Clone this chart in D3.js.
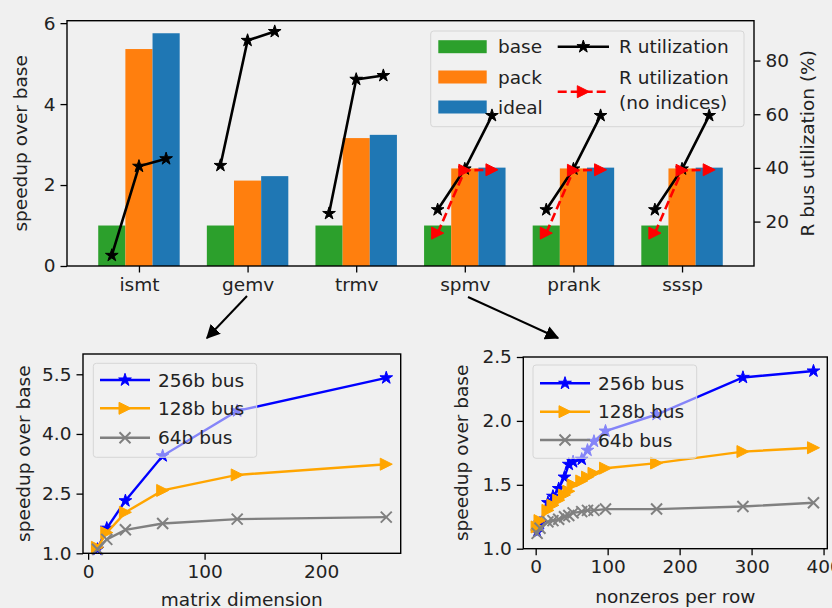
<!DOCTYPE html>
<html><head><meta charset="utf-8">
<script src="https://cdn.jsdelivr.net/npm/d3@7"></script>
<style>
html,body{margin:0;padding:0;background:#f0f0f0;}
svg{display:block;font-family:"DejaVu Sans",sans-serif;}
</style></head><body>
<svg id="c" width="832" height="608"></svg>
<script>
// ---------- data ----------
const categories = ["ismt","gemv","trmv","spmv","prank","sssp"];
const baseVals  = [1, 1, 1, 1, 1, 1];
const packVals  = [5.36, 2.11, 3.16, 2.41, 2.41, 2.41];
const idealVals = [5.75, 2.22, 3.24, 2.43, 2.43, 2.43];
const rUtil = [[7.4, 40.6, 43.4],[40.9, 87.5, 90.8],[23.0, 73.0, 74.4],[24.4, 39.6, 59.5],[24.4, 39.6, 59.5],[24.4, 39.6, 59.5]];
const rUtilNoIdx = [null, null, null, [15.7, 39.1, 39.3],[15.7, 39.1, 39.3],[15.7, 39.1, 39.3]];
const leftTicks = [0, 2, 4, 6];
const rightTicks = [20, 40, 60, 80];

const matDim = [8, 16, 32, 64, 128, 256];
const gemv256 = [1.10, 1.63, 2.32, 3.45, 4.58, 5.41];
const gemv128 = [1.15, 1.52, 2.03, 2.58, 2.97, 3.24];
const gemv64  = [1.10, 1.35, 1.59, 1.75, 1.86, 1.91];
const gemvYTicks = [1.0, 2.5, 4.0, 5.5];
const gemvXTicks = [0, 100, 200];

const nnzRow = [2, 6, 17, 24, 32, 40, 46, 52, 64, 72, 81, 97, 168, 288, 386];
const spmv256 = [1.13, 1.20, 1.36, 1.41, 1.47, 1.56, 1.66, 1.68, 1.70, 1.77, 1.84, 1.92, 2.05, 2.34, 2.39];
const spmv128 = [1.17, 1.22, 1.30, 1.34, 1.38, 1.42, 1.45, 1.50, 1.53, 1.56, 1.59, 1.63, 1.67, 1.76, 1.79];
const spmv64  = [1.12, 1.16, 1.21, 1.22, 1.23, 1.25, 1.26, 1.28, 1.29, 1.30, 1.30, 1.31, 1.31, 1.33, 1.36];
const spmvYTicks = [1.0, 1.5, 2.0, 2.5];
const spmvXTicks = [0, 100, 200, 300, 400];

// ---------- style ----------
const FS = 18.5;
const C = {base:"#2ca02c", pack:"#ff7f0e", ideal:"#1f77b4", r:"#000000", rn:"#ff0000",
           b256:"#0000ff", b128:"#ffa500", b64:"#808080"};
const svg = d3.select("#c");

const starPath = d3.symbol(d3.symbolStar, 50)();
const triPath = (r=6) => `M${r},0L${-r},${-r}L${-r},${r}Z`;
function drawMarker(g, type, x, y, color){
  if(type==="star"){
    g.append("path").attr("d", starPath).attr("transform",`translate(${x},${y})`)
     .attr("fill",color).attr("stroke",color).attr("stroke-width",1);
  } else if(type==="tri"){
    g.append("path").attr("d", triPath(6)).attr("transform",`translate(${x},${y})`)
     .attr("fill",color).attr("stroke",color).attr("stroke-width",1);
  } else if(type==="x"){
    const r=5.5;
    g.append("path").attr("d",`M${-r},${-r}L${r},${r}M${-r},${r}L${r},${-r}`)
     .attr("transform",`translate(${x},${y})`).attr("stroke",color).attr("stroke-width",2).attr("fill","none");
  }
}
function styleAxis(g){
  g.selectAll(".domain").remove();
  g.selectAll(".tick line").attr("stroke","#000").attr("stroke-width",1.3);
  g.selectAll(".tick text").attr("fill","#222").style("font-size",FS+"px").style("font-family","DejaVu Sans");
}
function frame(x0,y0,x1,y1){
  svg.append("rect").attr("x",x0).attr("y",y0).attr("width",x1-x0).attr("height",y1-y0)
    .attr("fill","none").attr("stroke","#000").attr("stroke-width",1.4);
}
function legendBox(x0,y0,x1,y1){
  svg.append("rect").attr("x",x0).attr("y",y0).attr("width",x1-x0).attr("height",y1-y0).attr("rx",3)
    .attr("fill","#f3f3f3").attr("fill-opacity",0.55).attr("stroke","#d6d6d6").attr("stroke-width",1);
}
function txt(x,y,s,anchor="start",rot=0){
  const t = svg.append("text").attr("x",x).attr("y",y).attr("text-anchor",anchor)
    .attr("dominant-baseline","central").style("font-size",FS+"px").attr("fill","#222").text(s);
  if(rot) t.attr("transform",`rotate(${rot},${x},${y})`);
  return t;
}

// ---------- top chart ----------
const T = {x0:67, x1:754, y0:20.7, y1:266};
const offsets = [-0.25, 0, 0.25];
const bw = 0.25;
const xT = d3.scaleLinear().domain([-0.6625, 5.6625]).range([T.x0, T.x1]);
const yL = d3.scaleLinear().domain([0, 6.06]).range([T.y1, T.y0]);
const yR = d3.scaleLinear().domain([3.45, 94.85]).range([T.y1, T.y0]);

const gBars = svg.append("g");
[[baseVals,C.base],[packVals,C.pack],[idealVals,C.ideal]].forEach(([vals,col],k)=>{
  gBars.selectAll(null).data(vals).enter().append("rect")
    .attr("x",(d,i)=>xT(i+offsets[k]-bw/2))
    .attr("width",xT(bw)-xT(0))
    .attr("y",d=>yL(d)).attr("height",d=>yL(0)-yL(d)).attr("fill",col);
});

const gx = svg.append("g").attr("transform",`translate(0,${T.y1})`)
  .call(d3.axisBottom(xT).tickValues(d3.range(categories.length)).tickFormat(i=>categories[i]).tickSizeOuter(0).tickSize(6.5).tickPadding(5));
styleAxis(gx);
const gyl = svg.append("g").attr("transform",`translate(${T.x0},0)`)
  .call(d3.axisLeft(yL).tickValues(leftTicks).tickFormat(d3.format("d")).tickSize(6.5).tickPadding(5));
styleAxis(gyl);
const gyr = svg.append("g").attr("transform",`translate(${T.x1},0)`)
  .call(d3.axisRight(yR).tickValues(rightTicks).tickFormat(d3.format("d")).tickSize(6.5).tickPadding(5));
styleAxis(gyr);

// top legend (belongs to the bar axes, so the twin-axis lines draw over it)
legendBox(430.7,31,744,126.7);
[["base",C.base,46.7],["pack",C.pack,77],["ideal",C.ideal,107]].forEach(([s,c,y])=>{
  svg.append("rect").attr("x",438.3).attr("y",y-6.5).attr("width",48.4).attr("height",13).attr("fill",c);
  txt(498,y,s);
});
svg.append("line").attr("x1",557.7).attr("x2",609).attr("y1",46.7).attr("y2",46.7).attr("stroke",C.r).attr("stroke-width",2.6);
drawMarker(svg,"star",583.3,46.7,C.r);
txt(619,46.7,"R utilization");
svg.append("line").attr("x1",557.7).attr("x2",609).attr("y1",91.7).attr("y2",91.7).attr("stroke",C.rn).attr("stroke-width",2.6).attr("stroke-dasharray","9,4");
drawMarker(svg,"tri",583.3,91.7,C.rn);
txt(619,77,"R utilization");
txt(619,102.5,"(no indices)");

const gLines = svg.append("g");
const lineT = d3.line().x(d=>xT(d[0])).y(d=>yR(d[1]));
rUtil.forEach((vals,i)=>{
  const pts = vals.map((v,k)=>[i+offsets[k], v]);
  gLines.append("path").attr("d",lineT(pts)).attr("fill","none").attr("stroke",C.r).attr("stroke-width",2.6);
  pts.forEach(p=>drawMarker(gLines,"star",xT(p[0]),yR(p[1]),C.r));
});
rUtilNoIdx.forEach((vals,i)=>{
  if(!vals) return;
  const pts = vals.map((v,k)=>[i+offsets[k], v]);
  gLines.append("path").attr("d",lineT(pts)).attr("fill","none").attr("stroke",C.rn).attr("stroke-width",2.6).attr("stroke-dasharray","9,4");
  pts.forEach(p=>drawMarker(gLines,"tri",xT(p[0]),yR(p[1]),C.rn));
});
frame(T.x0,T.y0,T.x1,T.y1);
txt(21,(T.y0+T.y1)/2,"speedup over base","middle",-90);
txt(808,(T.y0+T.y1)/2,"R bus utilization (%)","middle",-90);

// ---------- arrows ----------
const defs = svg.append("defs");
defs.append("marker").attr("id","ah").attr("viewBox","0 0 10 10").attr("refX",9).attr("refY",5)
  .attr("markerWidth",7).attr("markerHeight",7).attr("markerUnits","strokeWidth").attr("orient","auto")
  .append("path").attr("d","M0,0L10,5L0,10Z").attr("fill","#000");
svg.append("line").attr("x1",247).attr("y1",296).attr("x2",207).attr("y2",338)
  .attr("stroke","#000").attr("stroke-width",2).attr("marker-end","url(#ah)");
svg.append("line").attr("x1",468).attr("y1",297).attr("x2",558).attr("y2",338)
  .attr("stroke","#000").attr("stroke-width",2).attr("marker-end","url(#ah)");

// ---------- bottom panels ----------
function panel(P, xs, series, xTicks, yTicks, yFmt, xlabel, ylabelX, leg){
  const x = d3.scaleLinear().domain(P.xd).range([P.x0,P.x1]);
  const y = d3.scaleLinear().domain(P.yd).range([P.y1,P.y0]);
  const ga = svg.append("g").attr("transform",`translate(0,${P.y1})`)
    .call(d3.axisBottom(x).tickValues(xTicks).tickFormat(d3.format("d")).tickSize(6.5).tickPadding(5));
  styleAxis(ga);
  const gb = svg.append("g").attr("transform",`translate(${P.x0},0)`)
    .call(d3.axisLeft(y).tickValues(yTicks).tickFormat(d3.format(yFmt)).tickSize(6.5).tickPadding(5));
  styleAxis(gb);
  const g = svg.append("g");
  const ln = d3.line().x((d,i)=>x(xs[i])).y(d=>y(d));
  series.forEach(s=>{
    g.append("path").attr("d",ln(s.vals)).attr("fill","none").attr("stroke",s.color).attr("stroke-width",2.4);
    s.vals.forEach((v,i)=>drawMarker(g,s.mk,x(xs[i]),y(v),s.color));
  });
  frame(P.x0,P.y0,P.x1,P.y1);
  txt((P.x0+P.x1)/2, P.xlabY, xlabel, "middle");
  txt(ylabelX,(P.y0+P.y1)/2,"speedup over base","middle",-90);
  legendBox(leg.x0,leg.y0,leg.x1,leg.y1);
  series.forEach((s,k)=>{
    const yy = leg.rows[k];
    svg.append("line").attr("x1",leg.h0).attr("x2",leg.h1).attr("y1",yy).attr("y2",yy).attr("stroke",s.color).attr("stroke-width",2.4);
    drawMarker(svg,s.mk,(leg.h0+leg.h1)/2,yy,s.color);
    txt(leg.tx,yy,s.label);
  });
}
panel({x0:83,x1:400.7,y0:354,y1:553.3,xd:[-4.4,268.4],yd:[1,6.01],xlabY:599},
  matDim,
  [{vals:gemv256,color:C.b256,mk:"star",label:"256b bus"},
   {vals:gemv128,color:C.b128,mk:"tri",label:"128b bus"},
   {vals:gemv64,color:C.b64,mk:"x",label:"64b bus"}],
  gemvXTicks, gemvYTicks, ".1f", "matrix dimension", 24,
  {x0:93.3,y0:363.3,x1:256.7,y1:457.3,rows:[380,408.3,437.7],h0:100,h1:150,tx:158});
panel({x0:523.3,x1:827.3,y0:357,y1:548.7,xd:[-17.2,405.2],yd:[1,2.5],xlabY:596},
  nnzRow,
  [{vals:spmv256,color:C.b256,mk:"star",label:"256b bus"},
   {vals:spmv128,color:C.b128,mk:"tri",label:"128b bus"},
   {vals:spmv64,color:C.b64,mk:"x",label:"64b bus"}],
  spmvXTicks, spmvYTicks, ".1f", "nonzeros per row", 462,
  {x0:533,y0:365,x1:696.7,y1:458.3,rows:[383.3,411.7,440],h0:540,h1:590,tx:598});
</script></body></html>
